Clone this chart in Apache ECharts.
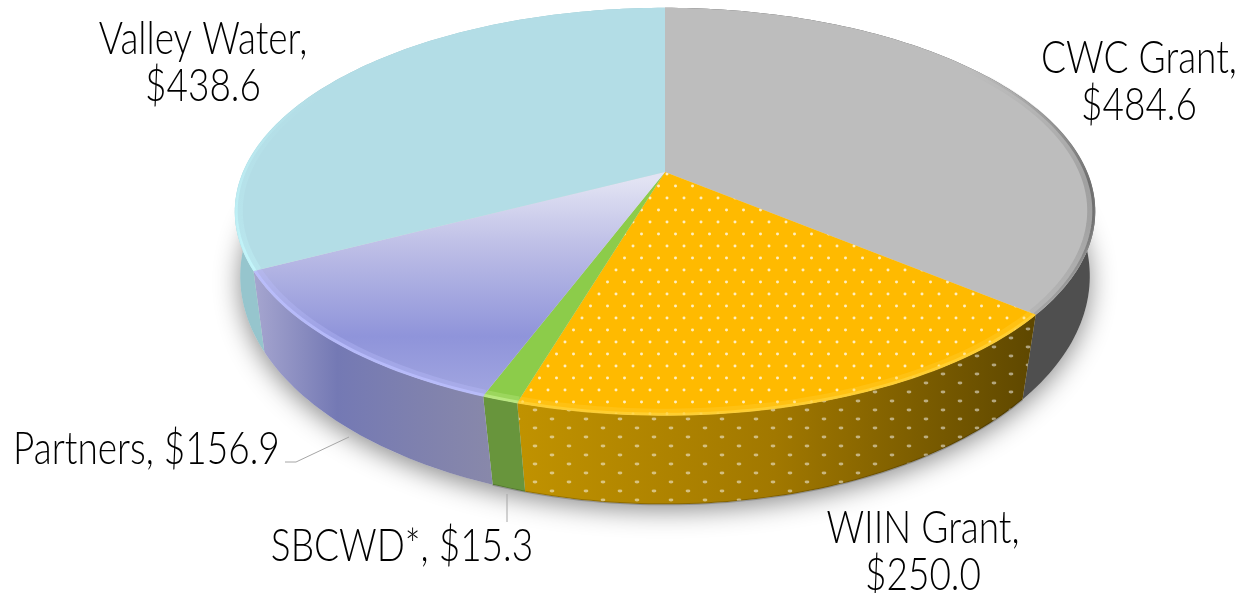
<!DOCTYPE html>
<html>
<head>
<meta charset="utf-8">
<script src="https://cdn.jsdelivr.net/npm/echarts@6/dist/echarts.min.js"></script>
<style>
  html, body { margin: 0; padding: 0; background: #fff; }
  #chart { width: 1237px; height: 593px; }
</style>
</head>
<body>
<div id="chart"></div>
<script>
const categories = ['CWC Grant', 'WIIN Grant', 'SBCWD*', 'Partners', 'Valley Water']
const amounts = [484.6, 250.0, 15.3, 156.9, 438.6]
const labelBreaks = [true, true, false, false, true]

const total = amounts.reduce((a, b) => a + b, 0)
const startAngles = []
amounts.reduce((sum, v, i) => {
  startAngles[i] = (sum / total) * Math.PI * 2
  return sum + v
}, 0)

// perspective disc, top face and bottom face
const TOP = { cx: 665, cy: 172, a: 422, b: 196, k: 0.194 }
const BOTTOM = { cx: 665, cy: 242, a: 420, b: 223, k: 0.15 }

const project = (disc, angle, r = 1) => {
  const u = Math.sin(angle) * r
  const v = -Math.cos(angle) * r
  const w = 1 - disc.k * v
  return [disc.cx + (disc.a * u) / w, disc.cy + (disc.b * v) / w]
}

const arc = (disc, from, to, r = 1) => {
  const steps = Math.max(2, Math.ceil((to - from) / 0.02))
  const pts = []
  for (let i = 0; i <= steps; i++) pts.push(project(disc, from + ((to - from) * i) / steps, r))
  return pts
}

const hGrad = (x0, x1, stops) => new echarts.graphic.LinearGradient(
  x0, 0, x1, 0,
  stops.map(([offset, color]) => ({ offset, color })),
  true
)
const vGrad = (y0, y1, stops) => new echarts.graphic.LinearGradient(
  0, y0, 0, y1,
  stops.map(([offset, color]) => ({ offset, color })),
  true
)

const dotTile = (w, h, dots, color) => {
  const c = document.createElement('canvas')
  c.width = w
  c.height = h
  const ctx = c.getContext('2d')
  ctx.fillStyle = color
  dots.forEach(([x, y, rx, ry]) => {
    ctx.beginPath()
    ctx.ellipse(x, y, rx, ry, 0, 0, Math.PI * 2)
    ctx.fill()
  })
  return c
}
const topDots = { image: dotTile(17, 24, [[4, 6, 1.5, 1.4], [12.5, 18, 1.5, 1.4]], 'rgba(255,255,255,0.75)'), repeat: 'repeat' }
const sideDots = { image: dotTile(34, 18, [[8, 5, 2.4, 1.4], [25, 14, 2.4, 1.4]], 'rgba(255,255,255,0.5)'), repeat: 'repeat' }

const topFills = [
  '#bdbdbd',
  '#ffba00',
  '#8ccc4a',
  vGrad(180, 410, [[0, '#e2e3f3'], [0.3, '#bcbde6'], [0.68, '#8f94da'], [1, '#a6aae2']]),
  '#b3dde6'
]
const sideFills = [
  '#4f4f4f',
  hGrad(520, 1030, [[0, '#c09200'], [0.5, '#a17800'], [1, '#5f4800']]),
  '#68953c',
  hGrad(255, 490, [[0, '#a5a5cf'], [0.35, '#7479b4'], [0.7, '#7f81ae'], [1, '#8888aa']]),
  '#96c5cd'
]
const rimFills = [
  vGrad(70, 320, [[0, 'rgba(110,110,110,0)'], [0.45, 'rgba(90,90,90,0.95)'], [0.62, 'rgba(90,90,90,0.9)'], [1, 'rgba(150,150,150,0.5)']]),
  '#ffd23a',
  '#c2ee8a',
  '#bcc0ff',
  vGrad(90, 270, [[0, 'rgba(198,251,255,0)'], [1, '#c6fbff']])
]

const sliceRange = (api) => {
  const i = api.value(0)
  const from = startAngles[i]
  return [i, from, from + (api.value(1) / total) * Math.PI * 2]
}

const renderSide = (params, api) => {
  const [i, from, to] = sliceRange(api)
  const points = arc(TOP, from, to).concat(arc(BOTTOM, from, to).reverse())
  const children = [{ type: 'polygon', shape: { points }, style: { fill: sideFills[i] } }]
  if (i === 1) children.push({ type: 'polygon', shape: { points }, style: { fill: sideDots } })
  // dark line where the front of the side meets the ground
  if (i === 1 || i === 2) {
    children.push({
      type: 'polyline',
      shape: { points: arc(BOTTOM, from, to) },
      style: { fill: null, stroke: 'rgba(0,0,0,0.2)', lineWidth: 2 }
    })
  }
  return { type: 'group', children }
}

const renderTop = (params, api) => {
  const [i, from, to] = sliceRange(api)
  const points = [[TOP.cx, TOP.cy]].concat(arc(TOP, from, to))
  const children = [{ type: 'polygon', shape: { points }, style: { fill: topFills[i] } }]
  if (i === 1) children.push({ type: 'polygon', shape: { points }, style: { fill: topDots } })
  // bevel along the rim
  children.push({
    type: 'polyline',
    shape: { points: arc(TOP, from, to, 0.99) },
    style: { fill: null, stroke: rimFills[i], lineWidth: 7, opacity: 0.3 }
  })
  children.push({
    type: 'polyline',
    shape: { points: arc(TOP, from, to, 0.997) },
    style: { fill: null, stroke: rimFills[i], lineWidth: 3, opacity: 0.75 }
  })
  return { type: 'group', children }
}

const labelAnchors = [
  { x: 1139, y: 82, align: 'center' },
  { x: 923, y: 552, align: 'center' },
  { x: 402, y: 547, align: 'center' },
  { x: 13, y: 450, align: 'left' },
  { x: 203, y: 63, align: 'center' }
]

const renderLabel = (params, api) => {
  const i = api.value(0)
  const value = api.value(1).toFixed(1)
  const anchor = labelAnchors[i]
  return {
    type: 'text',
    x: anchor.x,
    y: anchor.y,
    scaleX: 1,
    scaleY: 1.2,
    style: {
      text: `${categories[i]},${labelBreaks[i] ? '\n' : ' '}$${value}`,
      font: '300 37px Lato',
      lineHeight: 39,
      fill: '#000000',
      align: anchor.align,
      verticalAlign: 'middle'
    }
  }
}

const seriesData = amounts.map((v, i) => [i, v])
const customSeries = (renderItem, z) => ({
  type: 'custom',
  coordinateSystem: 'none',
  silent: true,
  animation: false,
  clip: false,
  z,
  renderItem,
  data: seriesData
})

const chart = echarts.init(document.getElementById('chart'), null, { renderer: 'canvas' })
chart.setOption({
  animation: false,
  backgroundColor: '#ffffff',
  tooltip: { show: false },
  graphic: [
    {
      type: 'polygon',
      z: 0,
      silent: true,
      shape: { points: arc(BOTTOM, 0, Math.PI * 2) },
      style: { fill: '#ddd', shadowBlur: 26, shadowColor: 'rgba(0,0,0,0.45)', shadowOffsetY: 6 }
    },
    { type: 'polyline', z: 5, silent: true, shape: { points: [[285, 462], [296, 462], [349, 437]] }, style: { fill: null, stroke: '#a6a6a6', lineWidth: 1 } },
    { type: 'polyline', z: 5, silent: true, shape: { points: [[507, 494], [507, 522]] }, style: { fill: null, stroke: '#a6a6a6', lineWidth: 1 } }
  ],
  series: [customSeries(renderSide, 1), customSeries(renderTop, 2), customSeries(renderLabel, 3)]
})
</script>
</body>
</html>
